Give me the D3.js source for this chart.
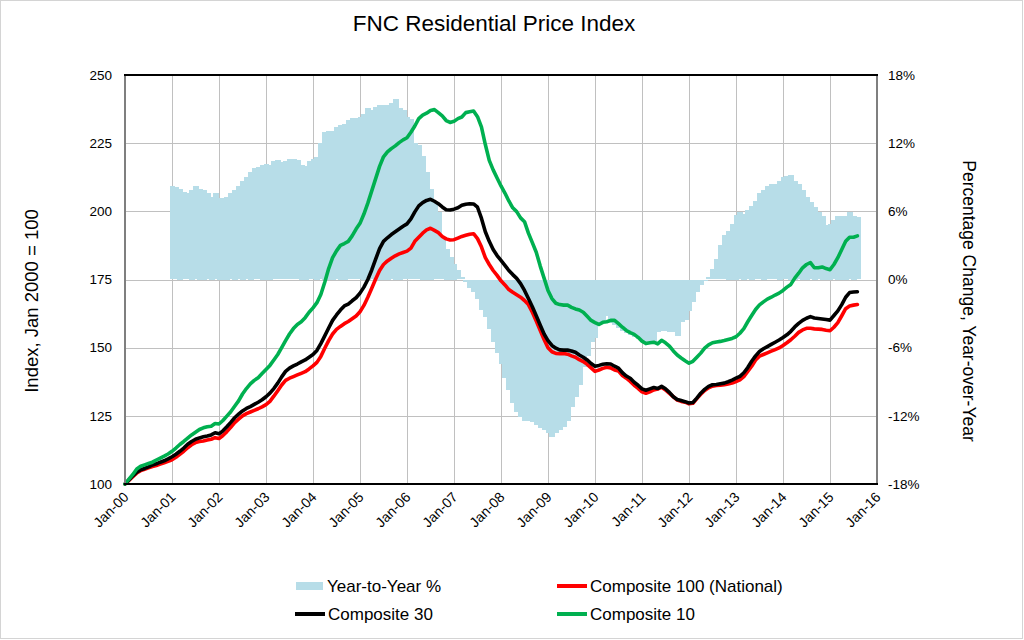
<!DOCTYPE html>
<html><head><meta charset="utf-8">
<script src="https://cdn.jsdelivr.net/npm/d3@7"></script>
<style>body{margin:0;background:#fff;} svg{display:block;font-family:"Liberation Sans",Arial,sans-serif;}</style>
</head><body><svg id="c" width="1024" height="640"></svg>
<script>
// ---- data (monthly, Jan-00 .. Aug-15) ----
const tickLabels = ["Jan-00","Jan-01","Jan-02","Jan-03","Jan-04","Jan-05","Jan-06","Jan-07","Jan-08","Jan-09","Jan-10","Jan-11","Jan-12","Jan-13","Jan-14","Jan-15","Jan-16"];
const leftTicks = [100,125,150,175,200,225,250];
const rightTicks = [-18,-12,-6,0,6,12,18];
const seriesNames = ["Year-to-Year %","Composite 100 (National)","Composite 30","Composite 10"];

const comp10 = [
100,101.8,103.5,105.5,106.5,107.0,107.5,108.0,108.8,109.5,110.2,111.0,
112.0,113.2,114.5,115.6,116.8,118.0,119.0,120.0,120.6,121.0,121.2,122.2,
122.0,123.3,124.9,126.5,128.5,130.5,133.0,135.0,136.7,138.0,139.0,140.5,
142.0,143.5,145.5,147.5,150.0,152.6,155.0,157.0,158.5,159.5,161.0,163.0,
164.6,166.5,169.5,174.0,179.0,183.0,185.5,187.5,188.2,189.0,191.0,193.5,
195.6,199.0,203.0,207.5,212.0,216.5,220.0,221.8,223.0,224.0,225.2,226.2,
227.0,229.0,231.3,234.0,235.3,236.0,237.0,237.3,236.2,235.0,233.3,232.6,
233.0,234.0,234.6,236.2,236.5,236.8,234.7,231.0,224.5,218.7,215.2,212.2,
209.3,206.7,203.8,201.3,199.9,197.6,196.2,192.0,188.5,185.0,180.0,175.5,
171.0,168.0,166.3,165.8,165.6,165.6,164.8,164.2,163.8,163.0,161.5,160.0,
159.2,158.5,159.3,159.5,160.0,160.0,158.8,157.5,156.3,155.5,154.9,153.8,
152.4,151.5,151.8,152.0,151.4,152.7,151.8,150.6,148.8,147.3,146.2,145.2,
144.3,145.0,146.5,148.0,149.8,151.0,151.8,152.1,152.3,152.6,153.0,153.4,
154.0,155.3,157.0,159.5,161.8,164.0,165.7,166.8,167.8,168.5,169.3,170.0,
171.0,172.2,173.2,175.5,177.3,179.3,180.5,181.2,179.3,179.3,179.6,179.0,
178.6,180.5,183.0,186.0,189.0,190.5,190.5,191.0];

const comp30 = [
100,101.5,103.0,104.3,105.2,105.7,106.3,107.0,107.4,108.0,108.5,109.2,
110.0,110.9,112.0,113.2,114.6,115.6,116.4,116.9,117.3,117.6,118.0,118.8,
118.4,119.5,121.0,122.6,124.3,125.6,126.8,127.7,128.4,129.2,130.0,130.9,
132.0,133.3,135.0,137.0,139.3,141.3,142.5,143.3,144.0,144.8,145.5,146.5,
147.5,149.0,151.5,154.3,157.2,160.0,162.0,163.8,165.3,166.0,167.2,168.3,
170.0,172.2,175.0,178.5,182.5,186.3,189.0,190.3,191.5,192.5,193.5,194.5,
195.4,197.2,199.8,202.0,203.2,204.0,204.4,203.7,202.8,201.6,200.6,200.5,
200.8,201.3,202.2,202.6,202.8,202.7,201.5,197.5,192.5,189.0,186.0,183.8,
182.0,180.2,178.3,176.8,175.4,173.5,171.0,168.0,165.0,161.7,158.3,155.0,
152.6,150.8,149.8,149.2,149.1,149.1,148.8,148.3,147.3,146.5,145.5,144.2,
143.2,143.5,143.9,144.1,144.0,143.2,142.5,140.8,139.6,138.8,137.3,136.2,
134.9,134.4,134.9,135.4,135.0,135.8,134.9,133.6,132.0,131.0,130.6,130.2,
129.7,129.9,131.5,133.3,134.7,135.8,136.4,136.5,136.8,137.0,137.5,138.1,
138.8,139.5,140.8,142.7,145.0,147.0,148.6,149.6,150.4,151.2,152.0,152.8,
153.7,154.7,156.0,157.6,158.9,160.0,160.8,161.4,160.9,160.7,160.5,160.3,
160.1,161.8,163.5,165.8,168.5,170.2,170.4,170.5];

const comp100 = [
100,101.3,102.7,104.0,104.9,105.4,105.9,106.4,106.8,107.3,107.8,108.3,
108.9,109.8,110.9,112.0,113.3,114.4,115.2,115.6,115.8,116.1,116.4,117.0,
116.7,117.8,119.2,120.8,122.5,123.8,125.0,125.8,126.4,127.0,127.6,128.3,
129.1,130.3,132.2,134.2,136.3,138.0,138.8,139.4,140.0,140.6,141.2,142.2,
143.3,144.6,146.8,149.8,152.6,155.0,156.7,157.8,158.8,159.6,160.6,161.6,
163.2,165.5,168.5,171.8,175.2,178.3,180.5,181.8,182.8,183.7,184.4,184.9,
185.4,186.5,189.0,190.5,192.0,193.2,193.8,193.0,192.2,190.8,189.9,189.5,
189.6,190.2,190.8,191.2,191.6,191.8,190.0,187.0,183.0,180.5,178.3,176.5,
174.5,173.0,171.3,170.3,169.4,168.5,167.3,165.8,163.0,159.8,156.4,153.0,
150.0,148.5,147.9,147.8,147.9,147.6,147.0,146.5,145.6,144.9,143.9,142.6,
141.3,141.8,142.4,142.8,142.6,141.8,141.4,139.8,138.8,137.6,136.2,135.1,
133.8,133.3,133.8,134.5,134.8,135.5,134.5,133.2,132.0,130.8,130.3,130.0,
129.4,129.6,131.3,132.9,134.3,135.3,135.9,136.1,136.2,136.4,136.7,137.0,
137.6,138.2,139.4,141.3,143.2,145.5,146.9,147.5,148.1,148.7,149.3,149.9,
150.8,151.8,152.9,154.2,155.6,156.5,157.1,157.1,156.9,156.8,156.7,156.4,
156.2,157.5,159.2,161.7,164.3,165.3,165.6,165.8];

// year-over-year %, Jan-01 .. Aug-15
const yoyStart = 12;
const yoy = [
8.2,8.1,8.0,7.7,7.6,7.9,8.2,8.0,7.9,7.6,7.3,7.6,
7.2,7.2,7.3,7.6,7.9,8.2,8.7,9.0,9.5,9.8,9.9,10.1,
10.2,10.1,10.4,10.5,10.3,10.4,10.6,10.6,10.5,10.1,10.0,10.4,
10.6,10.8,12.0,13.0,13.1,13.1,13.4,13.6,13.7,14.0,14.2,14.2,
14.3,14.6,15.1,14.9,15.2,15.4,15.4,15.4,15.5,15.9,15.1,14.9,
14.3,14.1,12.0,11.8,10.9,9.5,8.0,6.8,5.9,3.7,2.7,2.0,
1.4,0.8,0.2,-0.2,-0.7,-1.1,-1.7,-2.6,-3.3,-4.3,-5.5,-6.4,
-7.4,-8.6,-9.7,-10.8,-11.6,-12.1,-12.4,-12.4,-12.5,-12.8,-13.0,-13.2,
-13.5,-13.8,-13.5,-13.2,-12.9,-12.4,-11.2,-10.3,-9.2,-7.7,-6.7,-5.5,
-5.1,-3.9,-3.8,-3.2,-3.8,-4.0,-4.2,-4.5,-4.7,-4.8,-5.0,-5.2,
-5.3,-5.5,-5.5,-5.6,-4.6,-4.5,-4.5,-4.6,-4.6,-4.9,-3.7,-3.5,
-2.7,-1.9,-1.1,-0.4,-0.1,0.2,0.9,1.8,3.0,3.9,4.3,4.9,
5.7,5.9,5.8,6.1,6.5,6.9,7.6,7.9,8.2,8.4,8.4,8.7,
9.0,9.1,9.2,8.7,8.4,7.9,7.3,6.8,6.4,5.9,5.6,4.8,
4.9,5.2,5.6,5.6,5.6,5.9,5.6,5.5];

// ---- layout ----
const L=125, R=877, T=75, B=484;
const FONT = "Liberation Sans, Arial, sans-serif";
const BAR = "#b7dde8";
const svg = d3.select("#c");
const x = d3.scaleLinear().domain([0,192]).range([L,R]);
const y = d3.scaleLinear().domain([100,250]).range([B,T]);
const y2 = d3.scaleLinear().domain([-18,18]).range([B,T]);
const tickMonths = tickLabels.map((_,i)=>i*12);

svg.append("rect").attr("x",0.5).attr("y",0.5).attr("width",1022).attr("height",638)
  .attr("fill","#fff").attr("stroke","#d4d4d4");

// grid
const grid = svg.append("g").attr("stroke","#c0c0c0").attr("stroke-width",1);
grid.selectAll("line.v").data(tickMonths.slice(1,-1)).join("line")
  .attr("x1",d=>Math.round(x(d))+0.5).attr("x2",d=>Math.round(x(d))+0.5).attr("y1",T).attr("y2",B);
grid.selectAll("line.h").data(leftTicks.slice(1,-1)).join("line")
  .attr("y1",d=>Math.round(y(d))+0.5).attr("y2",d=>Math.round(y(d))+0.5).attr("x1",L).attr("x2",R);

// bars (each drawn 1px wider so neighbours overlap: no seams)
const bx0 = (i)=>Math.floor(x(yoyStart+i-0.5));
const bx1 = (i)=>Math.ceil(x(yoyStart+i+0.5));
svg.append("g").attr("fill",BAR).attr("shape-rendering","crispEdges")
  .selectAll("rect").data(yoy).join("rect")
  .attr("x",(d,i)=>bx0(i))
  .attr("width",(d,i)=>bx1(i)-bx0(i)+1)
  .attr("y",d=>Math.round(Math.min(y2(d),y2(0))))
  .attr("height",d=>Math.max(1,Math.round(Math.abs(y2(d)-y2(0)))));

// lines
const line = d3.line().x((d,i)=>x(i)).y(d=>y(d)).curve(d3.curveLinear);
[[comp100,"#ff0000"],[comp30,"#000000"],[comp10,"#00b050"]].forEach(([s,c])=>{
  svg.append("path").datum(s).attr("d",line).attr("fill","none")
    .attr("stroke",c).attr("stroke-width",3.6).attr("stroke-linejoin","round").attr("stroke-linecap","round");
});

// frame
svg.append("line").attr("x1",L).attr("x2",L).attr("y1",T).attr("y2",B).attr("stroke","#7f7f7f").attr("stroke-width",2);
svg.append("line").attr("x1",R).attr("x2",R).attr("y1",T).attr("y2",B).attr("stroke","#7f7f7f").attr("stroke-width",2);
svg.append("line").attr("x1",L-1).attr("x2",R+1).attr("y1",T).attr("y2",T).attr("stroke","#000").attr("stroke-width",2.2);
svg.append("line").attr("x1",L-1).attr("x2",R+1).attr("y1",B).attr("y2",B).attr("stroke","#000").attr("stroke-width",2.2);

// axes
const ax = svg.append("g").attr("transform",`translate(${L},0)`)
  .call(d3.axisLeft(y).tickValues(leftTicks).tickSize(0).tickPadding(13));
ax.select(".domain").remove();
ax.selectAll("text").attr("font-size",13.5).attr("fill","#000").attr("font-family",FONT);

const ax2 = svg.append("g").attr("transform",`translate(${R},0)`)
  .call(d3.axisRight(y2).tickValues(rightTicks).tickSize(0).tickPadding(11).tickFormat(d=>d+"%"));
ax2.select(".domain").remove();
ax2.selectAll("text").attr("font-size",13.5).attr("fill","#000").attr("font-family",FONT);

const axb = svg.append("g").attr("transform",`translate(0,${B})`)
  .call(d3.axisBottom(x).tickValues(tickMonths).tickSize(0).tickFormat((d,i)=>tickLabels[i]));
axb.select(".domain").remove();
axb.selectAll("text").attr("y",0).attr("dy",0).attr("font-size",14).attr("fill","#000")
  .attr("font-family",FONT)
  .attr("text-anchor","end").attr("transform","translate(4,14) rotate(-45)");

// titles
svg.append("text").attr("x",494).attr("y",31).attr("text-anchor","middle").attr("font-size",22.5).text("FNC Residential Price Index");
svg.append("text").attr("transform","translate(38,301) rotate(-90)").attr("text-anchor","middle").attr("font-size",18.5).text("Index, Jan 2000 = 100");
svg.append("text").attr("transform","translate(963,301) rotate(90)").attr("text-anchor","middle").attr("font-size",17.5).text("Percentage Change, Year-over-Year");

// legend
const lg = svg.append("g").attr("font-size",17);
lg.append("rect").attr("x",296).attr("y",582).attr("width",27).attr("height",8).attr("fill",BAR);
lg.append("text").attr("x",327).attr("y",592).text(seriesNames[0]);
const lineItems = [[557,586,"#ff0000",seriesNames[1]],[295,614,"#000000",seriesNames[2]],[557,614,"#00b050",seriesNames[3]]];
lineItems.forEach(([lx,ly,c,t])=>{
  lg.append("line").attr("x1",lx).attr("x2",lx+30).attr("y1",ly).attr("y2",ly).attr("stroke",c).attr("stroke-width",4);
  lg.append("text").attr("x",lx+33).attr("y",ly+6).text(t);
});
</script></body></html>
